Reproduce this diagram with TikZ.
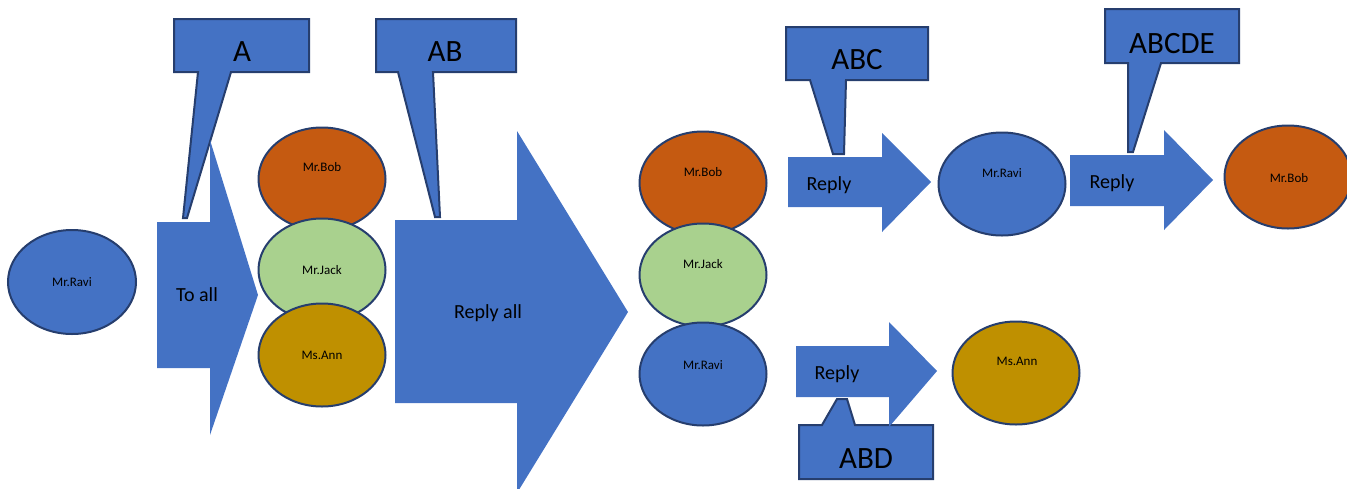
\documentclass[tikz,border=0pt]{standalone}
\usepackage{fontspec}
\setmainfont{Carlito}
\usepackage{tikz}
\usetikzlibrary{shapes.geometric,positioning}
\definecolor{msblue}{RGB}{68,114,196}
\definecolor{msline}{RGB}{38,62,110}
\definecolor{msorange}{RGB}{197,90,17}
\definecolor{msgreen}{RGB}{169,209,142}
\definecolor{msgold}{RGB}{191,144,0}
\tikzstyle{person} = [ellipse, draw=msline, line width=2pt, minimum width=127pt, minimum height=103pt, inner sep=0pt]
\tikzstyle{who} = [font=\fontsize{13}{15}\selectfont, text height=8.4pt, text depth=0pt, inner sep=0pt]
\tikzstyle{verb} = [font=\fontsize{20}{24}\selectfont, text height=13pt, text depth=0pt, inner sep=0pt]
\tikzstyle{seen} = [font=\fontsize{31}{36}\selectfont, text height=20pt, text depth=0pt, inner sep=0pt]
\tikzstyle{blockarrow} = [fill=msblue]
\tikzstyle{callout} = [fill=msblue, draw=msline, line width=2pt, line join=miter]

\begin{document}
\begin{tikzpicture}[x=1pt, y=-1pt]
\useasboundingbox (0,0) rectangle (1347,488);

% Callouts
\draw[callout] (174,19) -- (309,19) -- (309,72) -- (231,72) -- (187,218) -- (183,218) -- (198,72) -- (174,72) -- cycle;
\node[seen] (seenA) at (242,51) {A};
\draw[callout] (376,19) -- (516,19) -- (516,72) -- (433,72) -- (440,217) -- (435,217) -- (398,72) -- (376,72) -- cycle;
\node[seen] (seenAB) at (445,51) {AB};
\draw[callout] (786,27) -- (928,27) -- (928,80) -- (846,80) -- (844,154) -- (833,154) -- (810,80) -- (786,80) -- cycle;
\node[seen] (seenABC) at (857,59) {ABC};
\draw[callout] (1105,9) -- (1239,9) -- (1239,63) -- (1161,63) -- (1133,152) -- (1128,152) -- (1128,63) -- (1105,63) -- cycle;
\node[seen] (seenABCDE) at (1172,43) {ABCDE};
\draw[callout] (799,425) -- (822,425) -- (837,399) -- (847,399) -- (855,425) -- (933,425) -- (933,479) -- (799,479) -- cycle;
\node[seen] (seenABD) at (866,458) {ABD};

% Block arrows
\fill[blockarrow] (157,222) -- (210,222) -- (210,140) -- (258,295) -- (210,435) -- (210,368) -- (157,368) -- cycle;
\node[verb] (toall) at (197,295) {To all};
\fill[blockarrow] (395,220) -- (517,220) -- (517,131) -- (628,312) -- (517,493) -- (517,403) -- (395,403) -- cycle;
\node[verb] (replyall) at (488,312) {Reply all};
\fill[blockarrow] (788,157) -- (882,157) -- (882,133) -- (931,182) -- (882,232) -- (882,207) -- (788,207) -- cycle;
\node[verb] (replyC) at (829,184) {Reply};
\fill[blockarrow] (1070,155) -- (1164,155) -- (1164,130) -- (1213,180) -- (1164,230) -- (1164,206) -- (1070,206) -- cycle;
\node[verb] (replyE) at (1112,182) {Reply};
\fill[blockarrow] (796,346) -- (889,346) -- (889,322) -- (937,371) -- (889,427) -- (889,397) -- (796,397) -- cycle;
\node[verb] (replyD) at (837,373) {Reply};

% Sender
\node[person, fill=msblue, minimum width=128pt, minimum height=104pt] (ravi0) at (72,282) {};
\node[who] (ravi0txt) at (72,282) {Mr.Ravi};

% To all
\node[person, fill=msorange] (bob1) at (322,179) {};
\node[who] (bob1txt) at (322,167) {Mr.Bob};
\node[person, fill=msgreen] (jack1) at (322,270) {};
\node[who] (jack1txt) at (322,270) {Mr.Jack};
\node[person, fill=msgold] (ann1) at (322,355) {};
\node[who] (ann1txt) at (322,355) {Ms.Ann};

% Reply all
\node[person, fill=msorange] (bob2) at (703,183) {};
\node[who] (bob2txt) at (703,172) {Mr.Bob};
\node[person, fill=msgreen] (jack2) at (703,275) {};
\node[who] (jack2txt) at (703,264) {Mr.Jack};
\node[person, fill=msblue] (ravi2) at (703,374) {};
\node[who] (ravi2txt) at (703,365) {Mr.Ravi};

% Replies
\node[person, fill=msblue] (ravi3) at (1002,184) {};
\node[who] (ravi3txt) at (1002,173) {Mr.Ravi};
\node[person, fill=msorange] (bob3) at (1288,177) {};
\node[who] (bob3txt) at (1289,178) {Mr.Bob};
\node[person, fill=msgold] (ann3) at (1016,373) {};
\node[who] (ann3txt) at (1017,361) {Ms.Ann};
\end{tikzpicture}
\end{document}
